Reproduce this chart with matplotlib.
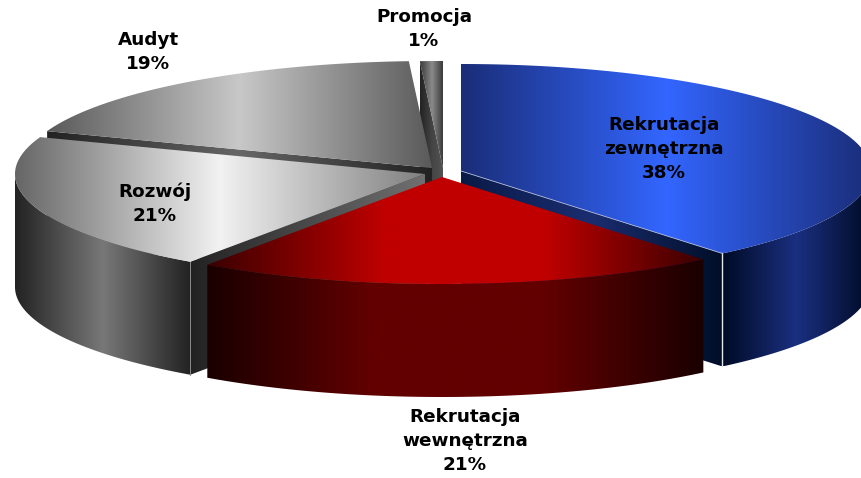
import numpy as np
import matplotlib
matplotlib.use("Agg")
import matplotlib.pyplot as plt
from matplotlib.colors import LinearSegmentedColormap
from matplotlib.patches import Polygon

# etykiety i procenty z wykresu
etykiety = ["Rekrutacja\nzewnętrzna", "Rekrutacja\nwewnętrzna", "Rozwój", "Audyt", "Promocja"]
procenty = [38, 21, 21, 19, 1]
# szerokosc wycinkow (w procentach kola)
udzialy = [39.0, 20.7, 20.9, 18.5, 0.9]

# geometria "3D"
CX, CY = 441, 168
A, B = 410, 107
GLEBOKOSC = 113
przesuniecie_x = [20, 1, -16, -9, 2]
przesuniecie_y = [3, 9, 6, 0, 0]
pozycje_etykiet = [(664, 149), (465, 441), (155, 204), (148, 52), (424, 29)]

# kolory: gora, bok, sciana (lewa krawedz, srodek, prawa krawedz)
kolory_gora = [
    ["#1a2d78", "#3366ff", "#1a2d78"],
    [(0, "#3a0000"), (0.36, "#c00000"), (0.68, "#c00000"), (1, "#3a0000")],
    ["#666666", "#f2f2f2", "#808080"],
    ["#5a5a5a", "#c8c8c8", "#5a5a5a"],
    ["#3a3a3a", "#8a8a8a", "#333333"],
]
kolory_bok = [
    ["#000a25", "#1a3080", "#000a25"],
    [(0, "#1a0000"), (0.33, "#620000"), (0.68, "#620000"), (1, "#1a0000")],
    ["#222222", "#787878", "#222222"],
    None,
    None,
]
kolory_sciana = [
    ["#0a1a48", "#1a2d70", "#000e28"],
    None,
    ["#222222", "#4a4a4a", "#707070"],
    ["#222222", "#666666", "#222222"],
    ["#222222", "#444444", "#555555"],
]


def punkt(ax0, ay0, kat):
    return ax0 + A * np.sin(kat), ay0 - B * np.cos(kat)


def gradient(ax, pts, kolory, z):
    # pozioma zmiana koloru przycieta do wielokata
    pts = np.asarray(pts)
    x0, x1 = pts[:, 0].min(), pts[:, 0].max()
    y0, y1 = pts[:, 1].min(), pts[:, 1].max()
    cmap = LinearSegmentedColormap.from_list("g", kolory)
    im = ax.imshow(np.linspace(0, 1, 256).reshape(1, -1), cmap=cmap, aspect="auto",
                   extent=(x0, x1, y1, y0), interpolation="bilinear", zorder=z)
    im.set_clip_path(Polygon(pts, transform=ax.transData))


fig = plt.figure(figsize=(8.61, 4.78), dpi=100)
ax = fig.add_axes([0, 0, 1, 1])
ax.set_axis_off()

# granice katow wycinkow
granice = np.radians(np.concatenate([[0], np.cumsum(udzialy)]) * 3.6)

# kolejnosc rysowania: od tylu do przodu
z = 1
for i in [4, 3, 0, 2, 1]:
    t0, t1 = granice[i], granice[i + 1]
    ax0 = CX + przesuniecie_x[i]
    ay0 = CY + przesuniecie_y[i]

    # sciana promieniowa
    if kolory_sciana[i] is not None:
        kat = t1 if i == 0 else t0
        xk, yk = punkt(ax0, ay0, kat)
        sciana = [(ax0, ay0), (xk, yk), (xk, yk + GLEBOKOSC), (ax0, ay0 + GLEBOKOSC)]
        gradient(ax, sciana, kolory_sciana[i], z)
        z += 1

    # bok zewnetrzny (tylko przednia czesc)
    if kolory_bok[i] is not None:
        a0 = max(t0, np.pi / 2)
        a1 = min(t1, 3 * np.pi / 2)
        th = np.linspace(a0, a1, 120)
        xs, ys = punkt(ax0, ay0, th)
        bok = np.vstack([np.c_[xs, ys], np.c_[xs[::-1], ys[::-1] + GLEBOKOSC]])
        gradient(ax, bok, kolory_bok[i], z)
        z += 1

    # gora wycinka
    th = np.linspace(t0, t1, 160)
    xs, ys = punkt(ax0, ay0, th)
    gora = np.vstack([[ax0, ay0], np.c_[xs, ys]])
    gradient(ax, gora, kolory_gora[i], z)
    z += 1

    # cienka jasna krawedz na rogu
    if i == 0:
        xk, yk = punkt(ax0, ay0, t1)
        ax.plot([xk, xk], [yk, yk + GLEBOKOSC], color="#e8e8e8", lw=1, zorder=z)
        ax.plot([ax0, xk], [ay0, yk], color="#aab4d8", lw=0.6, zorder=z)
    if i == 2:
        xk, yk = punkt(ax0, ay0, t0)
        ax.plot([xk, xk], [yk, yk + GLEBOKOSC], color="#8a8a8a", lw=0.7, zorder=z)

for nazwa, p, (x, y) in zip(etykiety, procenty, pozycje_etykiet):
    ax.text(x, y, f"{nazwa}\n{p}%", ha="center", va="center", fontsize=13.2,
            fontweight="bold", family="DejaVu Sans", linespacing=1.46, color="black", zorder=50)

ax.set_xlim(0, 861)
ax.set_ylim(478, 0)
fig.savefig("out.png", dpi=100, facecolor="white")
